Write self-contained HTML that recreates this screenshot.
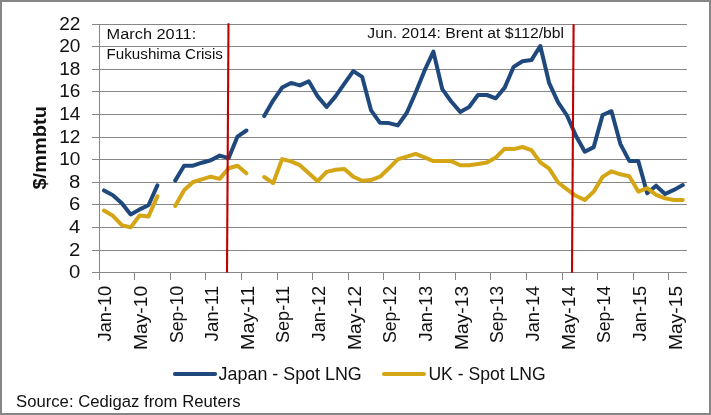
<!DOCTYPE html>
<html><head><meta charset="utf-8"><title>LNG spot prices</title>
<style>html,body{margin:0;padding:0;background:#fff;}body{width:711px;height:415px;overflow:hidden;position:relative;font-family:"Liberation Sans",sans-serif;}</style>
</head><body>
<svg width="711" height="415" viewBox="0 0 711 415" style="position:absolute;left:0;top:0;will-change:transform;font-family:'Liberation Sans',sans-serif;fill:#111111">
<rect x="0" y="0" width="711" height="415" fill="#fff"/>
<line x1="92" x2="686.9" y1="272.50" y2="272.50" stroke="#868686" stroke-width="1"/>
<text x="80.4" y="278.40" font-size="17.6" text-anchor="end" textLength="11.3" lengthAdjust="spacingAndGlyphs">0</text>
<line x1="92" x2="686.9" y1="250.50" y2="250.50" stroke="#868686" stroke-width="1"/>
<text x="80.4" y="256.40" font-size="17.6" text-anchor="end" textLength="11.3" lengthAdjust="spacingAndGlyphs">2</text>
<line x1="92" x2="686.9" y1="227.50" y2="227.50" stroke="#868686" stroke-width="1"/>
<text x="80.4" y="233.40" font-size="17.6" text-anchor="end" textLength="11.3" lengthAdjust="spacingAndGlyphs">4</text>
<line x1="92" x2="686.9" y1="204.50" y2="204.50" stroke="#868686" stroke-width="1"/>
<text x="80.4" y="210.40" font-size="17.6" text-anchor="end" textLength="11.3" lengthAdjust="spacingAndGlyphs">6</text>
<line x1="92" x2="686.9" y1="182.50" y2="182.50" stroke="#868686" stroke-width="1"/>
<text x="80.4" y="188.40" font-size="17.6" text-anchor="end" textLength="11.3" lengthAdjust="spacingAndGlyphs">8</text>
<line x1="92" x2="686.9" y1="159.50" y2="159.50" stroke="#868686" stroke-width="1"/>
<text x="80.4" y="165.40" font-size="17.6" text-anchor="end" textLength="21.2" lengthAdjust="spacingAndGlyphs">10</text>
<line x1="92" x2="686.9" y1="137.50" y2="137.50" stroke="#868686" stroke-width="1"/>
<text x="80.4" y="143.40" font-size="17.6" text-anchor="end" textLength="21.2" lengthAdjust="spacingAndGlyphs">12</text>
<line x1="92" x2="686.9" y1="114.50" y2="114.50" stroke="#868686" stroke-width="1"/>
<text x="80.4" y="120.40" font-size="17.6" text-anchor="end" textLength="21.2" lengthAdjust="spacingAndGlyphs">14</text>
<line x1="92" x2="686.9" y1="91.50" y2="91.50" stroke="#868686" stroke-width="1"/>
<text x="80.4" y="97.40" font-size="17.6" text-anchor="end" textLength="21.2" lengthAdjust="spacingAndGlyphs">16</text>
<line x1="92" x2="686.9" y1="69.50" y2="69.50" stroke="#868686" stroke-width="1"/>
<text x="80.4" y="75.40" font-size="17.6" text-anchor="end" textLength="21.2" lengthAdjust="spacingAndGlyphs">18</text>
<line x1="92" x2="686.9" y1="46.50" y2="46.50" stroke="#868686" stroke-width="1"/>
<text x="80.4" y="52.40" font-size="17.6" text-anchor="end" textLength="21.2" lengthAdjust="spacingAndGlyphs">20</text>
<line x1="92" x2="686.9" y1="24.50" y2="24.50" stroke="#868686" stroke-width="1"/>
<text x="80.4" y="30.40" font-size="17.6" text-anchor="end" textLength="21.2" lengthAdjust="spacingAndGlyphs">22</text>
<line x1="99.50" x2="99.50" y1="24.5" y2="272.50" stroke="#868686" stroke-width="1"/>
<line x1="99.50" x2="99.50" y1="272.50" y2="280" stroke="#868686" stroke-width="1"/>
<line x1="134.50" x2="134.50" y1="272.50" y2="280" stroke="#868686" stroke-width="1"/>
<line x1="170.50" x2="170.50" y1="272.50" y2="280" stroke="#868686" stroke-width="1"/>
<line x1="205.50" x2="205.50" y1="272.50" y2="280" stroke="#868686" stroke-width="1"/>
<line x1="241.50" x2="241.50" y1="272.50" y2="280" stroke="#868686" stroke-width="1"/>
<line x1="277.50" x2="277.50" y1="272.50" y2="280" stroke="#868686" stroke-width="1"/>
<line x1="312.50" x2="312.50" y1="272.50" y2="280" stroke="#868686" stroke-width="1"/>
<line x1="348.50" x2="348.50" y1="272.50" y2="280" stroke="#868686" stroke-width="1"/>
<line x1="383.50" x2="383.50" y1="272.50" y2="280" stroke="#868686" stroke-width="1"/>
<line x1="419.50" x2="419.50" y1="272.50" y2="280" stroke="#868686" stroke-width="1"/>
<line x1="455.50" x2="455.50" y1="272.50" y2="280" stroke="#868686" stroke-width="1"/>
<line x1="490.50" x2="490.50" y1="272.50" y2="280" stroke="#868686" stroke-width="1"/>
<line x1="526.50" x2="526.50" y1="272.50" y2="280" stroke="#868686" stroke-width="1"/>
<line x1="562.50" x2="562.50" y1="272.50" y2="280" stroke="#868686" stroke-width="1"/>
<line x1="597.50" x2="597.50" y1="272.50" y2="280" stroke="#868686" stroke-width="1"/>
<line x1="633.50" x2="633.50" y1="272.50" y2="280" stroke="#868686" stroke-width="1"/>
<line x1="668.50" x2="668.50" y1="272.50" y2="280" stroke="#868686" stroke-width="1"/>
<text transform="translate(111.20 285.9) rotate(-90)" font-size="17.8" text-anchor="end" textLength="55.5" lengthAdjust="spacingAndGlyphs">Jan-10</text>
<text transform="translate(146.85 285.9) rotate(-90)" font-size="17.8" text-anchor="end" textLength="64.0" lengthAdjust="spacingAndGlyphs">May-10</text>
<text transform="translate(182.50 285.9) rotate(-90)" font-size="17.8" text-anchor="end" textLength="57.2" lengthAdjust="spacingAndGlyphs">Sep-10</text>
<text transform="translate(218.14 285.9) rotate(-90)" font-size="17.8" text-anchor="end" textLength="55.5" lengthAdjust="spacingAndGlyphs">Jan-11</text>
<text transform="translate(253.79 285.9) rotate(-90)" font-size="17.8" text-anchor="end" textLength="64.0" lengthAdjust="spacingAndGlyphs">May-11</text>
<text transform="translate(289.44 285.9) rotate(-90)" font-size="17.8" text-anchor="end" textLength="57.2" lengthAdjust="spacingAndGlyphs">Sep-11</text>
<text transform="translate(325.09 285.9) rotate(-90)" font-size="17.8" text-anchor="end" textLength="55.5" lengthAdjust="spacingAndGlyphs">Jan-12</text>
<text transform="translate(360.74 285.9) rotate(-90)" font-size="17.8" text-anchor="end" textLength="64.0" lengthAdjust="spacingAndGlyphs">May-12</text>
<text transform="translate(396.38 285.9) rotate(-90)" font-size="17.8" text-anchor="end" textLength="57.2" lengthAdjust="spacingAndGlyphs">Sep-12</text>
<text transform="translate(432.03 285.9) rotate(-90)" font-size="17.8" text-anchor="end" textLength="55.5" lengthAdjust="spacingAndGlyphs">Jan-13</text>
<text transform="translate(467.68 285.9) rotate(-90)" font-size="17.8" text-anchor="end" textLength="64.0" lengthAdjust="spacingAndGlyphs">May-13</text>
<text transform="translate(503.33 285.9) rotate(-90)" font-size="17.8" text-anchor="end" textLength="57.2" lengthAdjust="spacingAndGlyphs">Sep-13</text>
<text transform="translate(538.98 285.9) rotate(-90)" font-size="17.8" text-anchor="end" textLength="55.5" lengthAdjust="spacingAndGlyphs">Jan-14</text>
<text transform="translate(574.62 285.9) rotate(-90)" font-size="17.8" text-anchor="end" textLength="64.0" lengthAdjust="spacingAndGlyphs">May-14</text>
<text transform="translate(610.27 285.9) rotate(-90)" font-size="17.8" text-anchor="end" textLength="57.2" lengthAdjust="spacingAndGlyphs">Sep-14</text>
<text transform="translate(645.92 285.9) rotate(-90)" font-size="17.8" text-anchor="end" textLength="55.5" lengthAdjust="spacingAndGlyphs">Jan-15</text>
<text transform="translate(681.57 285.9) rotate(-90)" font-size="17.8" text-anchor="end" textLength="64.0" lengthAdjust="spacingAndGlyphs">May-15</text>
<path d="M104.0 190.4 L112.9 195.2 L121.8 203.2 L130.7 214.4 L139.6 209.4 L148.5 205.2 L157.4 185.4 M175.2 180.6 L184.1 165.7 L193.0 165.7 L201.9 162.7 L210.8 160.2 L219.7 155.6 L228.6 158.2 L237.5 136.6 L246.4 130.5 M264.2 116.1 L273.1 100.6 L282.1 87.6 L291.0 82.9 L299.9 85.4 L308.8 81.2 L317.7 96.4 L326.6 107.0 L335.5 96.4 L344.4 83.7 L353.3 71.1 L362.2 76.9 L371.1 110.4 L380.0 122.8 L388.9 123.1 L397.8 125.4 L406.7 113.0 L415.6 92.7 L424.5 70.7 L433.4 51.6 L442.3 89.2 L451.2 101.5 L460.2 111.9 L469.1 107.0 L478.0 95.0 L486.9 95.0 L495.8 98.3 L504.7 87.6 L513.6 66.9 L522.5 61.2 L531.4 60.1 L540.3 46.0 L549.2 83.2 L558.1 102.3 L567.0 115.5 L575.9 135.8 L584.8 151.7 L593.7 147.1 L602.6 115.0 L611.5 111.2 L620.4 144.1 L629.3 160.9 L638.3 161.1 L647.2 193.3 L656.1 185.7 L665.0 194.0 L673.9 189.9 L682.8 185.1" fill="none" stroke="#1F497D" stroke-width="4" stroke-linecap="round" stroke-linejoin="round"/>
<path d="M104.0 210.5 L112.9 215.8 L121.8 225.2 L130.7 227.4 L139.6 215.5 L148.5 216.4 L157.4 196.4 M175.2 206.0 L184.1 190.2 L193.0 182.0 L201.9 179.4 L210.8 176.7 L219.7 178.9 L228.6 168.2 L237.5 165.7 L246.4 173.3 M264.2 177.0 L273.1 183.2 L282.1 159.1 L291.0 161.4 L299.9 165.2 L308.8 173.2 L317.7 181.2 L326.6 171.9 L335.5 169.8 L344.4 168.9 L353.3 176.7 L362.2 180.7 L371.1 180.1 L380.0 176.7 L388.9 168.2 L397.8 159.4 L406.7 156.7 L415.6 153.9 L424.5 157.3 L433.4 161.1 L442.3 161.1 L451.2 161.1 L460.2 165.2 L469.1 165.2 L478.0 163.9 L486.9 162.6 L495.8 157.5 L504.7 148.7 L513.6 149.1 L522.5 147.0 L531.4 150.1 L540.3 162.3 L549.2 168.7 L558.1 182.5 L567.0 189.3 L575.9 195.8 L584.8 200.0 L593.7 191.6 L602.6 176.9 L611.5 171.3 L620.4 174.3 L629.3 176.3 L638.3 191.6 L647.2 188.2 L656.1 194.9 L665.0 198.3 L673.9 200.0 L682.8 200.0" fill="none" stroke="#D4A514" stroke-width="4" stroke-linecap="round" stroke-linejoin="round"/>
<line x1="228.5" y1="23.2" x2="227.0" y2="272.4" stroke="#C00000" stroke-width="2.1"/>
<line x1="573.6" y1="24.2" x2="572.0" y2="272.8" stroke="#C00000" stroke-width="2.1"/>
<text x="106.6" y="38.8" font-size="14" textLength="89.6" lengthAdjust="spacingAndGlyphs">March 2011:</text>
<text x="106.6" y="58.8" font-size="14" textLength="116.3" lengthAdjust="spacingAndGlyphs">Fukushima Crisis</text>
<text x="367.3" y="37.8" font-size="14" textLength="196.8" lengthAdjust="spacingAndGlyphs">Jun. 2014: Brent at $112/bbl</text>
<text transform="translate(46.3 147.8) rotate(-90)" font-size="19" font-weight="bold" text-anchor="middle" textLength="83.5" lengthAdjust="spacingAndGlyphs">$/mmbtu</text>
<line x1="174.9" x2="215.1" y1="374" y2="374" stroke="#1F497D" stroke-width="4" stroke-linecap="round"/>
<text x="218.6" y="379.8" font-size="17.8" textLength="143.2" lengthAdjust="spacingAndGlyphs">Japan - Spot LNG</text>
<line x1="383.9" x2="424.0" y1="374" y2="374" stroke="#D4A514" stroke-width="4" stroke-linecap="round"/>
<text x="428.4" y="379.8" font-size="17.8" textLength="117.3" lengthAdjust="spacingAndGlyphs">UK - Spot LNG</text>
<text x="16.0" y="407.0" font-size="16.9" textLength="224.6" lengthAdjust="spacingAndGlyphs">Source: Cedigaz from Reuters</text>
<rect x="1" y="1" width="709" height="413" fill="none" stroke="#868686" stroke-width="2"/>
</svg>
</body></html>
